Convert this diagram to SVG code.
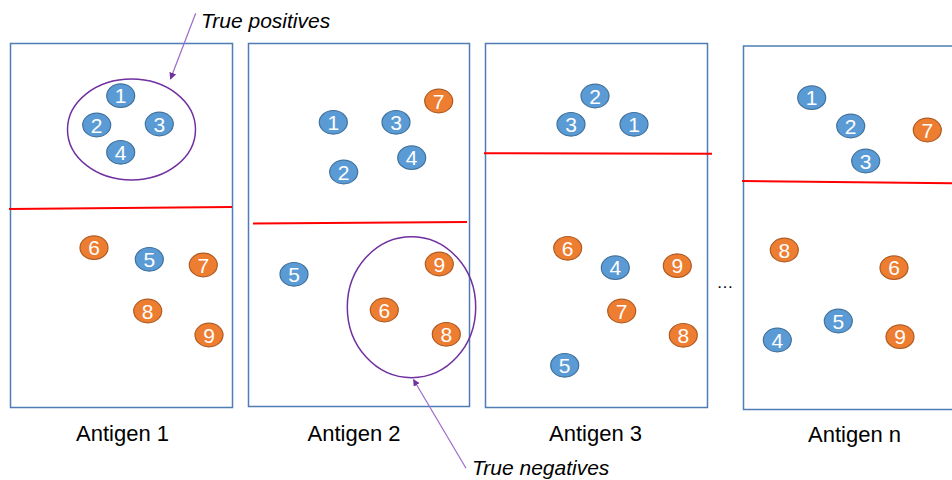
<svg xmlns="http://www.w3.org/2000/svg" width="952" height="480" viewBox="0 0 952 480">
<defs>
<style>
.panel{fill:#fff;stroke:#4F7DB3;stroke-width:1.5}
.thr{stroke:#FF0000;stroke-width:2;fill:none}
.grp{fill:none;stroke:#7030A0;stroke-width:1.5}
.ptr{stroke:#9B6BC9;stroke-width:1.2;fill:none}
.b{fill:#5B9BD5;stroke:#41719C;stroke-width:1.2}
.o{fill:#ED7D31;stroke:#AE5A21;stroke-width:1.2}
.n{font-family:"Liberation Sans",Arial,sans-serif;font-size:21px;fill:#fff;text-anchor:middle}
.lbl{font-family:"Liberation Sans",Arial,sans-serif;font-size:22px;fill:#000;text-anchor:middle}
.ann{font-family:"Liberation Sans",Arial,sans-serif;font-size:21px;font-style:italic;fill:#000}
</style>
<marker id="ah" viewBox="0 0 10 10" refX="9" refY="5" markerWidth="7" markerHeight="7" orient="auto" markerUnits="userSpaceOnUse">
<path d="M0,0 L10,5 L0,10 z" fill="#7030A0"/>
</marker>
</defs>
<rect width="952" height="480" fill="#fff"/>

<g id="panel1">
<rect class="panel" x="10.5" y="43.5" width="222" height="364"/>
<line class="thr" x1="9" y1="209" x2="232" y2="207"/>
<ellipse class="grp" cx="131.5" cy="129.5" rx="64" ry="50.5"/>
<g id="p1n1"><ellipse class="b" cx="120.7" cy="95.7" rx="14" ry="11.8"/><text class="n" x="120.7" y="103.2">1</text></g>
<g id="p1n2"><ellipse class="b" cx="96.7" cy="125" rx="14" ry="11.8"/><text class="n" x="96.7" y="132.5">2</text></g>
<g id="p1n3"><ellipse class="b" cx="159.3" cy="124" rx="14" ry="11.8"/><text class="n" x="159.3" y="131.5">3</text></g>
<g id="p1n4"><ellipse class="b" cx="120.7" cy="152.3" rx="14" ry="11.8"/><text class="n" x="120.7" y="159.8">4</text></g>
<g id="p1n6"><ellipse class="o" cx="94" cy="247.7" rx="14" ry="11.8"/><text class="n" x="94" y="255.2">6</text></g>
<g id="p1n5"><ellipse class="b" cx="149.3" cy="259.3" rx="14" ry="11.8"/><text class="n" x="149.3" y="266.8">5</text></g>
<g id="p1n7"><ellipse class="o" cx="203.3" cy="265" rx="14" ry="11.8"/><text class="n" x="203.3" y="272.5">7</text></g>
<g id="p1n8"><ellipse class="o" cx="147.7" cy="311" rx="14" ry="11.8"/><text class="n" x="147.7" y="318.5">8</text></g>
<g id="p1n9"><ellipse class="o" cx="209" cy="335" rx="14" ry="11.8"/><text class="n" x="209" y="342.5">9</text></g>
<text class="lbl" x="122.5" y="441">Antigen 1</text>
</g>

<g id="panel2">
<rect class="panel" x="248.5" y="43.5" width="221" height="363"/>
<line class="thr" x1="253" y1="223.5" x2="467" y2="222"/>
<ellipse class="grp" cx="411.5" cy="307.2" rx="64.2" ry="70.5"/>
<g id="p2n7"><ellipse class="o" cx="438.7" cy="101" rx="14" ry="11.8"/><text class="n" x="438.7" y="108.5">7</text></g>
<g id="p2n1"><ellipse class="b" cx="333.3" cy="122.3" rx="14" ry="11.8"/><text class="n" x="333.3" y="129.8">1</text></g>
<g id="p2n3"><ellipse class="b" cx="396" cy="122.3" rx="14" ry="11.8"/><text class="n" x="396" y="129.8">3</text></g>
<g id="p2n4"><ellipse class="b" cx="411.7" cy="157.7" rx="14" ry="11.8"/><text class="n" x="411.7" y="165.2">4</text></g>
<g id="p2n2"><ellipse class="b" cx="343.7" cy="172" rx="14" ry="11.8"/><text class="n" x="343.7" y="179.5">2</text></g>
<g id="p2n5"><ellipse class="b" cx="294" cy="274.3" rx="14" ry="11.8"/><text class="n" x="294" y="281.8">5</text></g>
<g id="p2n9"><ellipse class="o" cx="439.3" cy="264" rx="14" ry="11.8"/><text class="n" x="439.3" y="271.5">9</text></g>
<g id="p2n6"><ellipse class="o" cx="384.3" cy="310" rx="14" ry="11.8"/><text class="n" x="384.3" y="317.5">6</text></g>
<g id="p2n8"><ellipse class="o" cx="446.3" cy="334.3" rx="14" ry="11.8"/><text class="n" x="446.3" y="341.8">8</text></g>
<text class="lbl" x="354" y="441">Antigen 2</text>
</g>

<g id="panel3">
<rect class="panel" x="485.5" y="43.5" width="222" height="364"/>
<line class="thr" x1="484" y1="153.3" x2="712" y2="153.7"/>
<g id="p3n2"><ellipse class="b" cx="595" cy="96" rx="14" ry="11.8"/><text class="n" x="595" y="103.5">2</text></g>
<g id="p3n3"><ellipse class="b" cx="571" cy="124.3" rx="14" ry="11.8"/><text class="n" x="571" y="131.8">3</text></g>
<g id="p3n1"><ellipse class="b" cx="634" cy="124.3" rx="14" ry="11.8"/><text class="n" x="634" y="131.8">1</text></g>
<g id="p3n6"><ellipse class="o" cx="567.7" cy="248.3" rx="14" ry="11.8"/><text class="n" x="567.7" y="255.8">6</text></g>
<g id="p3n4"><ellipse class="b" cx="615.3" cy="267.7" rx="14" ry="11.8"/><text class="n" x="615.3" y="275.2">4</text></g>
<g id="p3n9"><ellipse class="o" cx="677.3" cy="265.7" rx="14" ry="11.8"/><text class="n" x="677.3" y="273.2">9</text></g>
<g id="p3n7"><ellipse class="o" cx="621.7" cy="311" rx="14" ry="11.8"/><text class="n" x="621.7" y="318.5">7</text></g>
<g id="p3n8"><ellipse class="o" cx="683.3" cy="335.3" rx="14" ry="11.8"/><text class="n" x="683.3" y="342.8">8</text></g>
<g id="p3n5"><ellipse class="b" cx="564.7" cy="365.3" rx="14" ry="11.8"/><text class="n" x="564.7" y="372.8">5</text></g>
<text class="lbl" x="595.5" y="441">Antigen 3</text>
</g>

<text id="ellipsis" x="725" y="288" font-family="Liberation Sans, Arial, sans-serif" font-size="17" text-anchor="middle" fill="#000">…</text>

<g id="panel4">
<rect class="panel" x="743.5" y="46" width="220" height="363.5"/>
<line class="thr" x1="742" y1="181" x2="952" y2="183.3"/>
<g id="p4n1"><ellipse class="b" cx="811.7" cy="97.7" rx="14" ry="11.8"/><text class="n" x="811.7" y="105.2">1</text></g>
<g id="p4n2"><ellipse class="b" cx="850.7" cy="126" rx="14" ry="11.8"/><text class="n" x="850.7" y="133.5">2</text></g>
<g id="p4n7"><ellipse class="o" cx="927.3" cy="130" rx="14" ry="11.8"/><text class="n" x="927.3" y="137.5">7</text></g>
<g id="p4n3"><ellipse class="b" cx="865.7" cy="161" rx="14" ry="11.8"/><text class="n" x="865.7" y="168.5">3</text></g>
<g id="p4n8"><ellipse class="o" cx="784.3" cy="250" rx="14" ry="11.8"/><text class="n" x="784.3" y="257.5">8</text></g>
<g id="p4n6"><ellipse class="o" cx="894" cy="267.7" rx="14" ry="11.8"/><text class="n" x="894" y="275.2">6</text></g>
<g id="p4n5"><ellipse class="b" cx="838.3" cy="321" rx="14" ry="11.8"/><text class="n" x="838.3" y="328.5">5</text></g>
<g id="p4n9"><ellipse class="o" cx="900" cy="336.7" rx="14" ry="11.8"/><text class="n" x="900" y="344.2">9</text></g>
<g id="p4n4"><ellipse class="b" cx="777.3" cy="340" rx="14" ry="11.8"/><text class="n" x="777.3" y="347.5">4</text></g>
<text class="lbl" x="854.5" y="442">Antigen n</text>
</g>

<g id="annotations">
<text class="ann" x="201" y="28">True positives</text>
<text class="ann" x="472" y="475">True negatives</text>
</g>

<g id="connectors">
<line class="ptr" x1="195.7" y1="13.3" x2="170.5" y2="79" marker-end="url(#ah)"/>
<line class="ptr" x1="466" y1="468.3" x2="413.5" y2="379.5" marker-end="url(#ah)"/>
</g>
</svg>
